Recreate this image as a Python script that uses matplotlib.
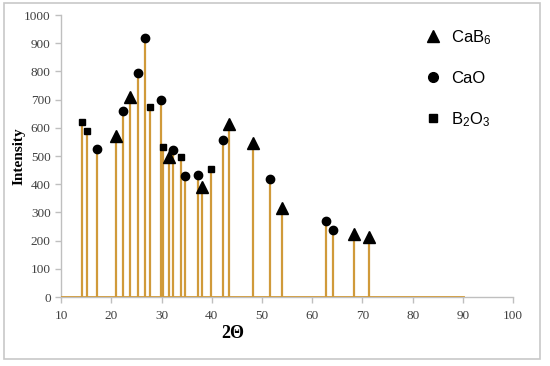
import matplotlib
matplotlib.use("Agg")
import matplotlib.pyplot as plt
from matplotlib.lines import Line2D
from matplotlib.patches import Rectangle

plt.rcParams['mathtext.default'] = 'regular'

# peak positions (2 theta) and intensities
cab6_x = [20.9, 23.8, 31.4, 38.0, 43.4, 48.3, 54.0, 68.4, 71.4]
cab6_y = [572, 710, 498, 389, 612, 547, 317, 223, 212]
cao_x = [17.2, 22.4, 25.4, 26.7, 29.8, 32.3, 34.6, 37.2, 42.2, 51.5, 62.8, 64.1]
cao_y = [525, 659, 795, 917, 700, 521, 429, 433, 557, 417, 268, 239]
b2o3_x = [14.1, 15.2, 27.7, 30.3, 33.9, 39.8]
b2o3_y = [621, 587, 675, 533, 498, 453]
baseline_x = [10, 90]

x_ticks = list(range(10, 101, 10))
y_ticks = list(range(0, 1001, 100))

stem_color = '#D09A3A'
axis_color = '#BFBFBF'

fig = plt.figure(figsize=(5.5, 3.66), dpi=100)
ax = fig.add_axes([0.111, 0.1885, 0.822, 0.7705])

# outer chart border
fig.patches.append(Rectangle((4 / 550, 1 - 359 / 366), 536 / 550, 356 / 366,
                             transform=fig.transFigure, fill=False,
                             edgecolor='#C8C8C8', linewidth=1.2))

# stems for every peak
for xs, ys in [(cab6_x, cab6_y), (cao_x, cao_y), (b2o3_x, b2o3_y)]:
    ax.vlines(xs, 0, ys, color=stem_color, linewidth=1.6, zorder=2)
ax.plot(baseline_x, [0, 0], color=stem_color, linewidth=2, zorder=3)

# markers on top of the stems
ax.plot(cab6_x, cab6_y, '^', color='black', markersize=8, linestyle='none', zorder=4)
ax.plot(cao_x, cao_y, 'o', color='black', markersize=6, linestyle='none', zorder=4)
ax.plot(b2o3_x, b2o3_y, 's', color='black', markersize=5, linestyle='none', zorder=4)

ax.set_xlim(10, 100)
ax.set_ylim(0, 1000)
ax.set_xticks(x_ticks)
ax.set_yticks(y_ticks)
ax.tick_params(axis='both', labelsize=9.5, colors=axis_color, labelcolor='#404040',
               length=4, width=1, direction='out')
ax.tick_params(axis='x', pad=5)
for lab in ax.get_xticklabels() + ax.get_yticklabels():
    lab.set_family('Liberation Serif')

for side in ['top', 'right']:
    ax.spines[side].set_visible(False)
for side in ['left', 'bottom']:
    ax.spines[side].set_color(axis_color)
    ax.spines[side].set_linewidth(1)

ax.set_xlabel('2\u0398', family='Liberation Serif', fontweight='bold', fontsize=13)
ax.xaxis.set_label_coords(0.38, -0.098)
ax.set_ylabel('Intensity', family='Liberation Serif', fontweight='bold', fontsize=11)
ax.yaxis.set_label_coords(-0.078, 0.5)

handles = [Line2D([], [], marker='^', color='black', linestyle='none', markersize=9),
           Line2D([], [], marker='o', color='black', linestyle='none', markersize=7),
           Line2D([], [], marker='s', color='black', linestyle='none', markersize=5.5)]
labels = ['CaB$_6$', 'CaO', 'B$_2$O$_3$']
fig.legend(handles, labels, loc='upper left', bbox_to_anchor=(0.745, 0.965),
           frameon=False, prop={'family': 'Liberation Sans', 'size': 12},
           labelspacing=1.45, handlelength=1.0, handletextpad=0.6)

plt.savefig('out.png', dpi=100)
